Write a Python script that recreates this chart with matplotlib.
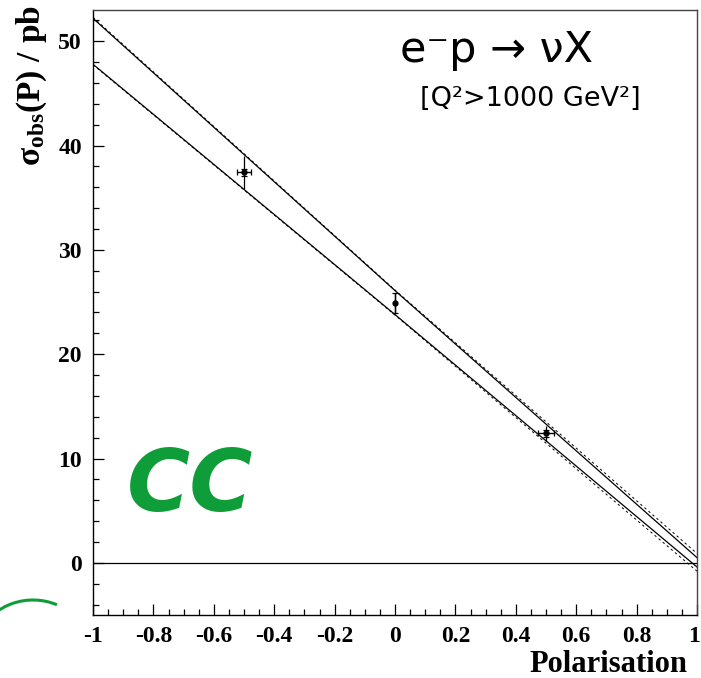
import numpy as np
import matplotlib.pyplot as plt
import matplotlib.transforms as mtransforms
from matplotlib.patches import Arc
from matplotlib.ticker import MultipleLocator

plt.rcParams['mathtext.fontset'] = 'custom'
plt.rcParams['mathtext.rm'] = 'Liberation Serif:bold'
plt.rcParams['mathtext.bf'] = 'Liberation Serif:bold'
plt.rcParams['mathtext.it'] = 'Liberation Serif:bold'

# fit band (solid) and its uncertainty (dashed)
P_fit = [-1.0, 0.0, 1.0]
upper = [52.2, 26.1, 0.5]
lower = [47.8, 23.8, -0.4]
upper_dash = [52.3, 26.15, 0.9]
lower_dash = [47.75, 23.75, -0.8]

# measurements
P_data = [-0.5, 0.0, 0.5]
sigma = [37.45, 24.9, 12.4]
err_tot = [1.6, 0.95, 0.7]
err_stat = [0.35, 0.95, 0.3]
err_P = [0.022, 0.0, 0.025]

xtick_labels = ['-1', '-0.8', '-0.6', '-0.4', '-0.2', '0', '0.2', '0.4',
                '0.6', '0.8', '1']

fig = plt.figure(figsize=(7.01, 6.78), dpi=100)
ax = fig.add_axes([93/701, 1-615/678, 604/701, 605/678])

ax.plot(P_fit, upper, color='black', lw=0.9)
ax.plot(P_fit, lower, color='black', lw=0.9)
ax.plot(P_fit, upper_dash, color='black', lw=0.7, ls=(0, (2.5, 3)))
ax.plot(P_fit, lower_dash, color='black', lw=0.7, ls=(0, (2.5, 3)))
ax.axhline(0, color='black', lw=0.9)

ax.errorbar(P_data, sigma, yerr=err_tot, fmt='none', ecolor='black',
            elinewidth=0.9, capsize=0)
ax.errorbar(P_data, sigma, yerr=err_stat, xerr=err_P, fmt='o', color='black',
            ms=3.5, elinewidth=1.0, capsize=2.5, capthick=0.9)

ax.set_xlim(-1, 1)
ax.set_ylim(-5, 53)
ax.xaxis.set_major_locator(MultipleLocator(0.2))
ax.xaxis.set_minor_locator(MultipleLocator(0.05))
ax.yaxis.set_major_locator(MultipleLocator(10))
ax.yaxis.set_minor_locator(MultipleLocator(2))
ax.tick_params(which='both', direction='in', top=False, right=False,
               labelsize=17, pad=8, width=0.9)
ax.tick_params(which='major', length=8)
ax.tick_params(which='minor', length=4.5)
ax.set_xticks(np.arange(-1, 1.01, 0.2))
ax.set_xticklabels(xtick_labels)
for lab in ax.get_xticklabels() + ax.get_yticklabels():
    lab.set_fontfamily('Liberation Serif')
    lab.set_fontweight('bold')
# keep the last label inside the figure
last = ax.get_xticklabels()[-1]
last.set_transform(last.get_transform() +
                   mtransforms.ScaledTranslation(-3/100, 0, fig.dpi_scale_trans))
for s in ax.spines.values():
    s.set_linewidth(1.0)
ax.spines['top'].set_color('#444444')
ax.spines['right'].set_color('#444444')

ax.set_xlabel('Polarisation', fontfamily='Liberation Serif', fontweight='bold',
              fontsize=22, loc='right')
ax.xaxis.label.set_va('baseline')
ax.xaxis.set_label_coords((687-93)/604, (615-672)/605)
ax.set_ylabel(r'$\mathrm{σ_{obs}(P)\ /\ pb}$', fontsize=24, loc='top')
ax.yaxis.set_label_coords((49-93)/604, (615-5)/605)

fig.text(400/701, 1-62/678, 'e\u207bp \u2192 \u03bdX', fontfamily='DejaVu Sans',
         fontsize=31, ha='left', va='baseline')
fig.text(420/701, 1-106/678, '[Q\u00b2>1000 GeV\u00b2]', fontfamily='DejaVu Sans',
         fontsize=19.5, ha='left', va='baseline')
fig.text(190/701, 1-487/678, 'CC', fontfamily='DejaVu Sans', fontweight='bold',
         style='italic', fontsize=62, color='#0f9d3a', ha='center', va='center')

arc = Arc((33/701, 1-662/678), 124/701, 124/678, theta1=68, theta2=150,
          transform=fig.transFigure, color='#0f9d3a', lw=2.2)
fig.add_artist(arc)

fig.savefig('out.png', dpi=100)
